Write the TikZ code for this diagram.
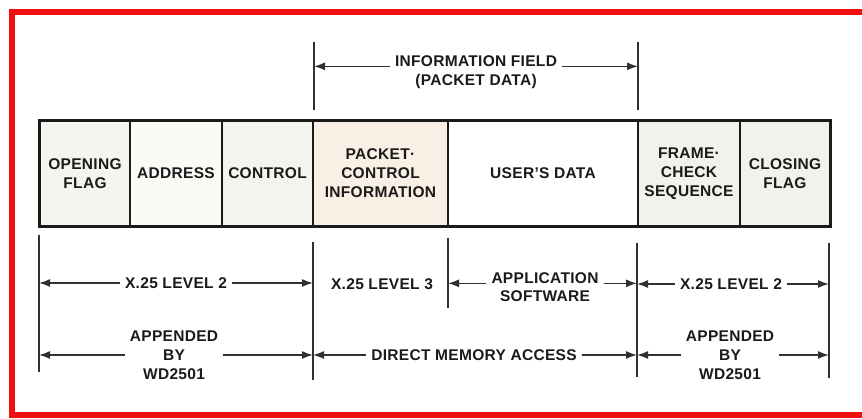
\documentclass[tikz,border=0pt]{standalone}
\usepackage{fontspec}
\setmainfont{Liberation Sans}[LetterSpace=2]
\usetikzlibrary{arrows.meta}
\definecolor{ink}{HTML}{1A1A1A}
\definecolor{framered}{HTML}{F01010}
\definecolor{fillA}{HTML}{F6F4EE}
\definecolor{fillB}{HTML}{FBFAF6}
\definecolor{fillC}{HTML}{F4F3EE}
\definecolor{fillD}{HTML}{F9EFE4}
\definecolor{fillF}{HTML}{F2F1EC}
\begin{document}
\begin{tikzpicture}[x=1pt,y=-1pt,
  lbl/.style={font=\bfseries\fontsize{15.5}{19}\selectfont, align=center, inner xsep=5pt, inner ysep=1pt, text=ink},
  cellbox/.style={draw=ink, line width=1.8pt, minimum height=104pt, inner sep=0pt, align=center,
                  font=\bfseries\fontsize{15.5}{19}\selectfont, text=ink},
  tick/.style={draw=ink!90, line width=1.5pt},
  dim/.style={draw=ink!90, line width=1.5pt, -{Latex[length=11pt,width=8pt]}},
]
\useasboundingbox (0,0) rectangle (862,419);
\clip (0,0) rectangle (862,419);
% red border
\draw[framered, line width=6pt] (880,12) -- (12,12) -- (12,415) -- (880,415);

% frame cells
\node[cellbox, fill=fillA, minimum width=90pt]  (a) at (85,173.5)  {OPENING\\FLAG};
\node[cellbox, fill=fillB, minimum width=92pt]  (b) at (176,173.5) {ADDRESS};
\node[cellbox, fill=fillC, minimum width=91pt]  (c) at (267.5,173.5) {CONTROL};
\node[cellbox, fill=fillD, minimum width=135pt] (d) at (380.5,173.5) {PACKET·\\CONTROL\\INFORMATION};
\node[cellbox, fill=white, minimum width=190pt] (e) at (543,173.5) {USER'S DATA};
\node[cellbox, fill=fillF, minimum width=102pt] (f) at (689,173.5) {FRAME·\\CHECK\\SEQUENCE};
\node[cellbox, fill=fillF, minimum width=90pt]  (g) at (785,173.5) {CLOSING\\FLAG};
\draw[ink, line width=3pt] (a.north west) rectangle (g.south east);

% top dimension
\coordinate (ta1) at (314,42);  \coordinate (ta2) at (314,110);
\coordinate (tb1) at (638,42);  \coordinate (tb2) at (638,110);
\draw[tick] (ta1) -- (ta2);
\draw[tick] (tb1) -- (tb2);
\node[lbl] (info1) at (476,61) {INFORMATION FIELD};
\node[lbl] (info2) at (476,81) {(PACKET DATA)};
\draw[dim] (info1.base west) -- (info1.base west -| ta1);
\draw[dim] (info1.base east) -- (info1.base east -| tb1);

% lower ticks
\coordinate (l0a) at (39,235);  \coordinate (l0b) at (39,372);
\coordinate (l1a) at (313,242); \coordinate (l1b) at (313,380);
\coordinate (l2a) at (448,238); \coordinate (l2b) at (448,308);
\coordinate (l3a) at (637,243); \coordinate (l3b) at (637,377);
\coordinate (l4a) at (829,243); \coordinate (l4b) at (829,378);
\foreach \t in {0,1,2,3,4} \draw[tick] (l\t a) -- (l\t b);

% row 1
\node[lbl] (lv2l) at (176,283) {X.25 LEVEL 2};
\draw[dim] (lv2l.west) -- (lv2l.west -| l0a);
\draw[dim] (lv2l.east) -- (lv2l.east -| l1a);
\node[lbl] (lv3) at (382,284) {X.25 LEVEL 3};
\node[lbl] (app1) at (545,278) {APPLICATION};
\node[lbl] (app2) at (545,296) {SOFTWARE};
\draw[dim] (app1.base west) -- (app1.base west -| l2a);
\draw[dim] (app1.base east) -- (app1.base east -| l3a);
\node[lbl] (lv2r) at (731,284) {X.25 LEVEL 2};
\draw[dim] (lv2r.west) -- (lv2r.west -| l3a);
\draw[dim] (lv2r.east) -- (lv2r.east -| l4a);

% row 2
\node[lbl] (appl) at (174,355) {APPENDED\\BY\\WD2501};
\draw[dim] (appl.west) -- (appl.west -| l0a);
\draw[dim] (appl.east) -- (appl.east -| l1a);
\node[lbl] (dma) at (474,355) {DIRECT MEMORY ACCESS};
\draw[dim] (dma.west) -- (dma.west -| l1a);
\draw[dim] (dma.east) -- (dma.east -| l3a);
\node[lbl] (appr) at (730,355) {APPENDED\\BY\\WD2501};
\draw[dim] (appr.west) -- (appr.west -| l3a);
\draw[dim] (appr.east) -- (appr.east -| l4a);
\end{tikzpicture}
\end{document}
